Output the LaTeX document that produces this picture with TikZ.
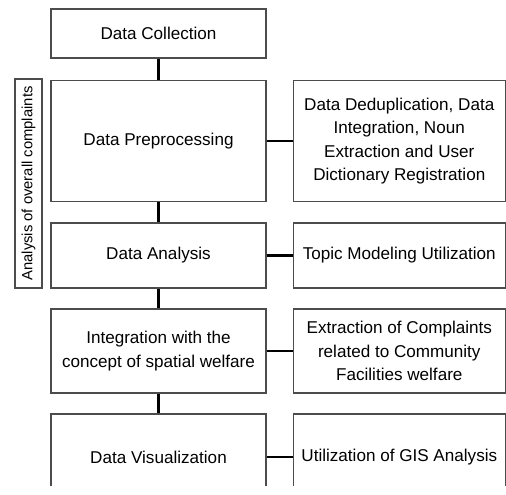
\documentclass[tikz,border=0pt]{standalone}
\usepackage{fontspec}
\setmainfont{Liberation Sans}
\begin{document}
\begin{tikzpicture}[x=1pt,y=-1pt,
  box/.style={draw=black!70,line width=1.3pt,rectangle,inner sep=0pt,align=center,
    font=\fontsize{17.1}{23.3}\selectfont},
  lbox/.style={box,minimum width=215pt},
  rbox/.style={box,minimum width=212pt},
  link/.style={draw=black,line width=2.6pt}]
\useasboundingbox (0,0) rectangle (506,495);
\begin{scope}
\clip (0,0) rectangle (506,485);
\node[lbox,minimum height=49pt] (dc) at (158.5,33.5) {Data Collection};
\node[lbox,minimum height=121pt] (dp) at (158.5,141) {Data Preprocessing};
\node[lbox,minimum height=65pt] (da) at (158.5,255.5) {Data Analysis};
\node[lbox,minimum height=84pt] (ig) at (158.5,351) {Integration with the\\concept of spatial welfare};
\node[lbox,minimum height=86pt] (dv) at (158.5,457) {Data Visualization};
\node[rbox,minimum height=121pt] (dd) at (399.3,141) {Data Deduplication, Data\\Integration, Noun\\Extraction and User\\Dictionary Registration};
\node[rbox,minimum height=65pt] (tm) at (399.3,255.5) {Topic Modeling Utilization};
\node[rbox,minimum height=84pt] (ex) at (399.3,351) {Extraction of Complaints\\related to Community\\Facilities welfare};
\node[rbox,minimum height=86pt] (gis) at (399.3,457) {Utilization of GIS Analysis};
\end{scope}
\node[draw=black!70,line width=1.3pt,minimum width=27pt,minimum height=209pt,inner sep=0pt] (lab) at (28.5,183.5) {};
\node[rotate=90,font=\fontsize{14.8}{16}\selectfont] at (lab.center) {Analysis of overall complaints};
\draw[link] (dc.south) -- (dp.north);
\draw[link] (dp.south) -- (da.north);
\draw[link] (da.south) -- (ig.north);
\draw[link] (ig.south) -- (dv.north);
\draw[link] (dp.east) -- (dd.west);
\draw[link] (da.east) -- (tm.west);
\draw[link] (ig.east) -- (ex.west);
\draw[link] (dv.east) -- (gis.west);
\end{tikzpicture}
\end{document}
